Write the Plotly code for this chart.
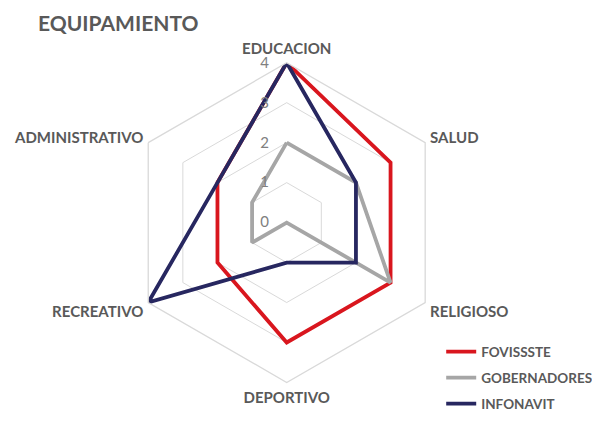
"""Radar chart: EQUIPAMIENTO by housing program."""

import plotly.graph_objects as go

categories = ["EDUCACION", "SALUD", "RELIGIOSO", "DEPORTIVO", "RECREATIVO", "ADMINISTRATIVO"]
fovissste = [4, 3, 3, 3, 2, 2]
gobernadores = [2, 2, 3, 0, 1, 1]
infonavit = [4, 2, 2, 1, 4, 2]
radial_ticks = [0, 1, 2, 3, 4]

series = [
    ("FOVISSSTE", fovissste, "#D9161E"),
    ("GOBERNADORES", gobernadores, "#A6A6A6"),
    ("INFONAVIT", infonavit, "#272760"),
]

LABEL = "#595959"
GRID = "#D9D9D9"

theta = [f"<b>{c}</b>" for c in categories]

fig = go.Figure()
for name, values, color in series:
    fig.add_trace(
        go.Scatterpolar(
            r=values + values[:1],
            theta=theta + theta[:1],
            mode="lines",
            name=f"<b>{name}</b>",
            legendgroup=name,
            line={"color": color, "width": 3.8},
        )
    )

fig.update_layout(
    width=600,
    height=422,
    margin={"l": 0, "r": 0, "t": 0, "b": 0},
    paper_bgcolor="white",
    plot_bgcolor="white",
    font={"family": "Lato, 'Open Sans', sans-serif", "color": LABEL},
    title={
        "text": "<b>EQUIPAMIENTO</b>",
        "x": 0.05,
        "xanchor": "left",
        "y": 0.962,
        "yanchor": "middle",
        "font": {"size": 21, "color": LABEL},
    },
    polar={
        "domain": {"x": [0.198, 0.731], "y": [0.112, 0.871]},
        "gridshape": "linear",
        "bgcolor": "white",
        "radialaxis": {
            "range": [0, 4],
            "tickvals": radial_ticks,
            "angle": 90,
            "tickangle": 90,
            "showline": False,
            "ticks": "outside",
            "ticklen": 12,
            "tickcolor": "rgba(0,0,0,0)",
            "gridcolor": GRID,
            "gridwidth": 1.3,
            "side": "counterclockwise",
            "tickfont": {"size": 15, "color": "#808080"},
        },
        "angularaxis": {
            "categoryorder": "array",
            "categoryarray": theta,
            "rotation": 90,
            "direction": "clockwise",
            "showgrid": False,
            "linecolor": GRID,
            "linewidth": 1.3,
            "ticks": "outside",
            "ticklen": 2,
            "tickcolor": "rgba(0,0,0,0)",
            "tickfont": {"size": 15, "color": LABEL},
        },
    },
    legend={
        "x": 0.722,
        "y": 0.222,
        "xanchor": "left",
        "yanchor": "top",
        "bgcolor": "rgba(0,0,0,0)",
        "font": {"size": 13.5, "color": LABEL},
        "tracegroupgap": 5.5,
        "itemwidth": 30,
    },
)

fig.write_html("out.html")
